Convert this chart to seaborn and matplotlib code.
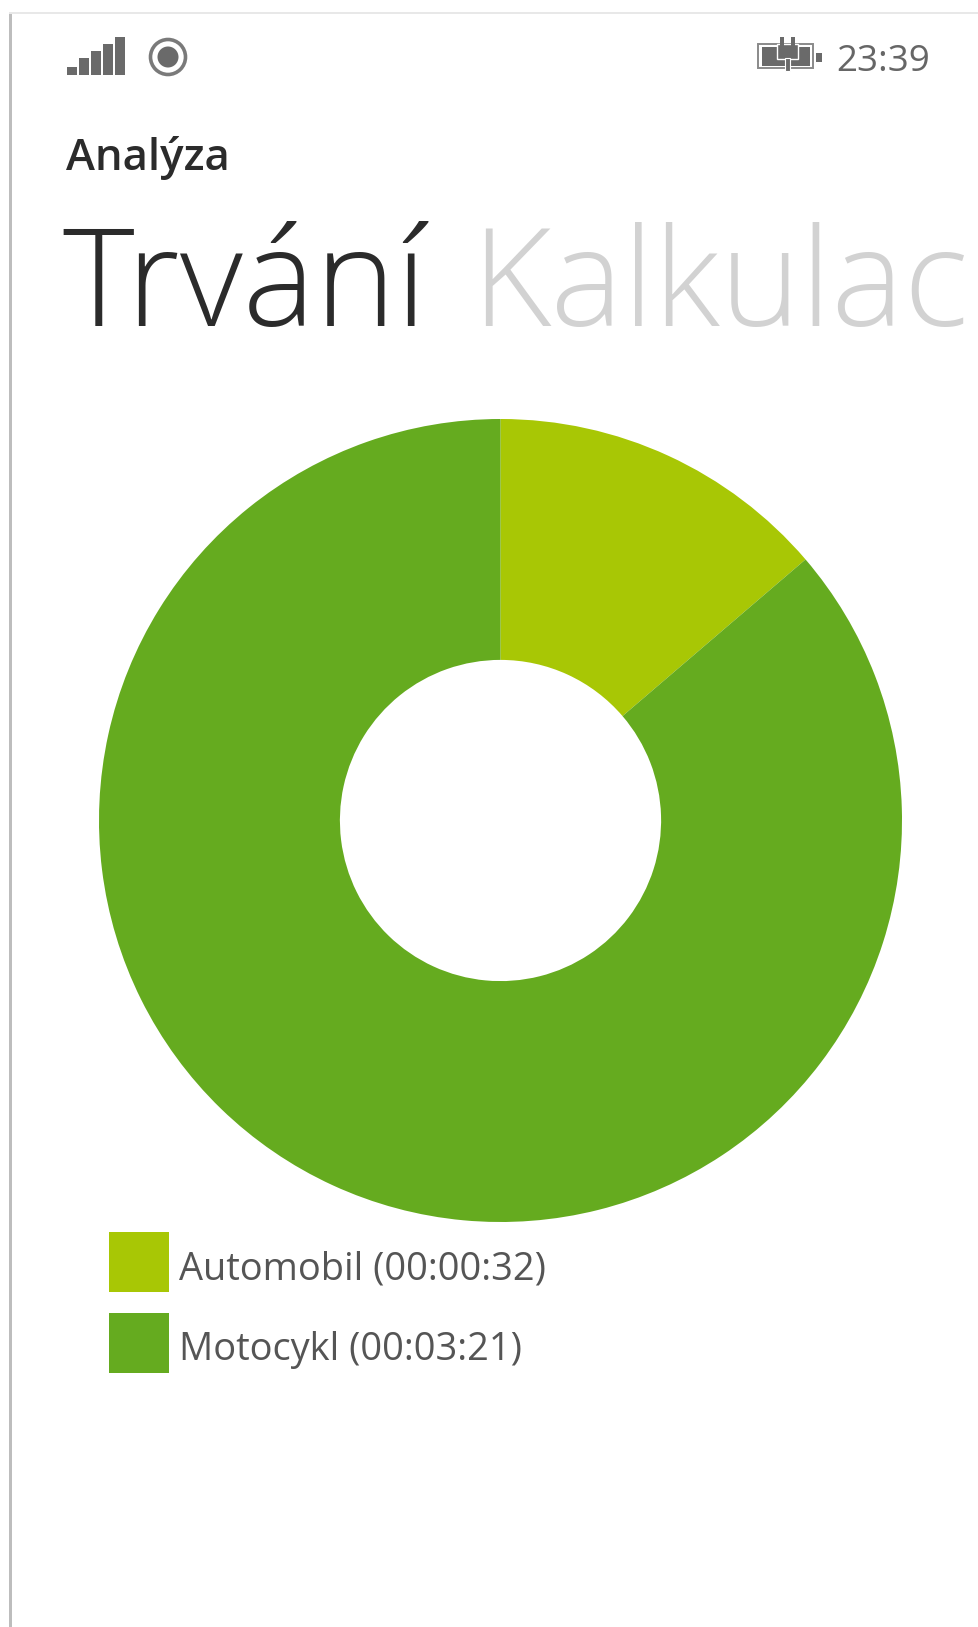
import matplotlib
matplotlib.use("Agg")
import matplotlib.pyplot as plt
from matplotlib.patches import Rectangle, Circle, Patch
from matplotlib.legend_handler import HandlerPatch
import seaborn as sns

# Trip durations per vehicle
categories = ["Automobil", "Motocykl"]
duration_seconds = [32, 201]
duration_labels = ["00:00:32", "00:03:21"]
slice_colors = ["#A8C705", "#65AB1F"]

section = "Analýza"
active_page = "Trvání"
next_page = "Kalkulac"
clock = "23:39"
signal_bar_heights = [8, 17, 24, 31, 38]

W, H = 979, 1627
sns.set_theme(style="white")
plt.rcParams["font.family"] = ["Open Sans", "DejaVu Sans"]

fig = plt.figure(figsize=(W / 100, H / 100), dpi=100, facecolor="white")

# Overlay in pixel units for the phone chrome
ui = fig.add_axes([0, 0, 1, 1])
ui.set_xlim(0, W)
ui.set_ylim(H, 0)
ui.axis("off")

# Screenshot edge
ui.add_patch(Rectangle((9, 13), 3, H, color="#BDBDBD", lw=0))
ui.add_patch(Rectangle((9, 12), W, 2, color="#E8E8E8", lw=0))

# Status bar: signal bars
icon = "#6A6A6A"
for i, h in enumerate(signal_bar_heights):
    ui.add_patch(Rectangle((67 + i * 12, 75 - h), 10.5, h, color=icon, lw=0))

# Status bar: data indicator
ui.add_patch(Circle((168, 57), 17.5, fc="white", ec="#7A7A7A", lw=2.6))
ui.add_patch(Circle((168, 57), 10.5, color=icon, lw=0))

# Status bar: battery with charging plug
ui.add_patch(Rectangle((758, 44), 55, 24, fc="white", ec="#8A8A8A", lw=1.4))
ui.add_patch(Rectangle((762, 47), 48, 19, color=icon, lw=0))
ui.add_patch(Rectangle((816, 53), 6, 9, color=icon, lw=0))
ui.add_patch(Rectangle((777, 44), 21, 15, fc=icon, ec="white", lw=1.0))
ui.add_patch(Rectangle((785, 58), 5, 13, fc=icon, ec="white", lw=0.8))
ui.add_patch(Rectangle((780, 37), 4, 9, color=icon, lw=0))
ui.add_patch(Rectangle((791, 37), 4, 9, color=icon, lw=0))

ui.text(930, 71, clock, ha="right", va="baseline", fontsize=26.5, color="#666666")

# Page header
ui.text(66, 170, section, ha="left", va="baseline", fontsize=31.5, color="#2B2B2B",
        fontweight="semibold")
ui.text(62, 326, active_page, ha="left", va="baseline", fontsize=98.5, color="#2B2B2B",
        fontweight="light")
ui.text(471, 326, next_page, ha="left", va="baseline", fontsize=98.5, color="#D2D2D2",
        fontweight="light")

# Donut
cx, cy, radius = 500.5, 820.5, 401.5
pie_ax = fig.add_axes([(cx - radius) / W, 1 - (cy + radius) / H, 2 * radius / W, 2 * radius / H])
wedges, _ = pie_ax.pie(duration_seconds, colors=slice_colors, startangle=90, counterclock=False,
                       radius=1, wedgeprops={"width": 0.6, "linewidth": 0})
pie_ax.set_xlim(-1, 1)
pie_ax.set_ylim(-1, 1)


def square_swatch(legend, orig_handle, xdescent, ydescent, width, height, fontsize):
    # Square box dropped just below the label baseline
    return Rectangle((-xdescent, -9.5), width, height)


# Legend
handles = [Patch(facecolor=c, lw=0) for c in slice_colors]
texts = [f"{name} ({t})" for name, t in zip(categories, duration_labels)]
ui.legend(handles, texts, loc="upper left", bbox_to_anchor=(109 / W, 1 - 1237 / H),
          bbox_transform=fig.transFigure, frameon=False, fontsize=27.4, labelcolor="#555555",
          handlelength=1.577, handleheight=2.05, handletextpad=0.27, labelspacing=0.55,
          borderpad=0, borderaxespad=0,
          handler_map={Patch: HandlerPatch(patch_func=square_swatch)})

fig.savefig("out.png", dpi=100, facecolor="white")
